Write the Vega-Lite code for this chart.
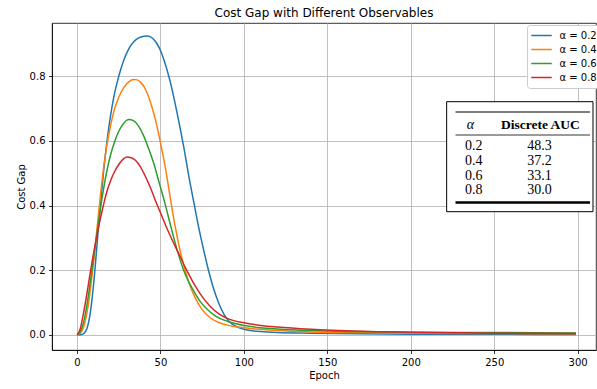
{
  "$schema": "https://vega.github.io/schema/vega-lite/v6.json",
  "width": 544,
  "height": 327,
  "autosize": {"type": "none"},
  "padding": {"left": 52, "top": 23, "right": 1, "bottom": 39},
  "background": "white",
  "title": {"text": "Cost Gap with Different Observables", "font": "DejaVu Sans", "fontSize": 12, "fontWeight": "normal", "color": "black", "offset": 3},
  "config": {
    "view": {"stroke": "black", "strokeWidth": 0.8},
    "axis": {"labelFont": "DejaVu Sans", "labelFontSize": 10, "labelColor": "black", "titleFont": "DejaVu Sans", "titleFontSize": 10, "titleFontWeight": "normal", "titleColor": "black", "gridColor": "#b0b0b0", "gridWidth": 0.8, "domainColor": "black", "domainWidth": 0.8, "tickColor": "black", "tickSize": 3.5, "tickWidth": 0.8, "labelPadding": 3.5}
  },
  "datasets": {
    "curves": [
      {"alpha":0.2,"epoch":0,"cost_gap":0},{"alpha":0.2,"epoch":2,"cost_gap":0.0005},{"alpha":0.2,"epoch":4,"cost_gap":0.004},{"alpha":0.2,"epoch":6,"cost_gap":0.02},{"alpha":0.2,"epoch":8,"cost_gap":0.07},{"alpha":0.2,"epoch":10,"cost_gap":0.16},{"alpha":0.2,"epoch":12,"cost_gap":0.28},{"alpha":0.2,"epoch":14,"cost_gap":0.40},{"alpha":0.2,"epoch":16,"cost_gap":0.51},{"alpha":0.2,"epoch":18,"cost_gap":0.60},{"alpha":0.2,"epoch":20,"cost_gap":0.675},{"alpha":0.2,"epoch":22,"cost_gap":0.735},{"alpha":0.2,"epoch":25,"cost_gap":0.80},{"alpha":0.2,"epoch":28,"cost_gap":0.85},{"alpha":0.2,"epoch":31,"cost_gap":0.885},{"alpha":0.2,"epoch":34,"cost_gap":0.907},{"alpha":0.2,"epoch":37,"cost_gap":0.919},{"alpha":0.2,"epoch":40,"cost_gap":0.924},{"alpha":0.2,"epoch":42,"cost_gap":0.925},{"alpha":0.2,"epoch":44,"cost_gap":0.922},{"alpha":0.2,"epoch":46,"cost_gap":0.914},{"alpha":0.2,"epoch":48,"cost_gap":0.90},{"alpha":0.2,"epoch":50,"cost_gap":0.88},{"alpha":0.2,"epoch":52,"cost_gap":0.852},{"alpha":0.2,"epoch":55,"cost_gap":0.80},{"alpha":0.2,"epoch":58,"cost_gap":0.735},{"alpha":0.2,"epoch":61,"cost_gap":0.66},{"alpha":0.2,"epoch":64,"cost_gap":0.58},{"alpha":0.2,"epoch":67,"cost_gap":0.49},{"alpha":0.2,"epoch":70,"cost_gap":0.41},{"alpha":0.2,"epoch":73,"cost_gap":0.33},{"alpha":0.2,"epoch":76,"cost_gap":0.26},{"alpha":0.2,"epoch":79,"cost_gap":0.195},{"alpha":0.2,"epoch":82,"cost_gap":0.14},{"alpha":0.2,"epoch":85,"cost_gap":0.097},{"alpha":0.2,"epoch":88,"cost_gap":0.064},{"alpha":0.2,"epoch":91,"cost_gap":0.042},{"alpha":0.2,"epoch":95,"cost_gap":0.027},{"alpha":0.2,"epoch":100,"cost_gap":0.017},{"alpha":0.2,"epoch":110,"cost_gap":0.010},{"alpha":0.2,"epoch":120,"cost_gap":0.007},{"alpha":0.2,"epoch":140,"cost_gap":0.005},{"alpha":0.2,"epoch":170,"cost_gap":0.003},{"alpha":0.2,"epoch":200,"cost_gap":0.002},{"alpha":0.2,"epoch":250,"cost_gap":0.0015},{"alpha":0.2,"epoch":299,"cost_gap":0.001},
      {"alpha":0.4,"epoch":0,"cost_gap":0},{"alpha":0.4,"epoch":2,"cost_gap":0.005},{"alpha":0.4,"epoch":4,"cost_gap":0.025},{"alpha":0.4,"epoch":6,"cost_gap":0.07},{"alpha":0.4,"epoch":8,"cost_gap":0.14},{"alpha":0.4,"epoch":10,"cost_gap":0.23},{"alpha":0.4,"epoch":12,"cost_gap":0.33},{"alpha":0.4,"epoch":14,"cost_gap":0.43},{"alpha":0.4,"epoch":16,"cost_gap":0.52},{"alpha":0.4,"epoch":18,"cost_gap":0.59},{"alpha":0.4,"epoch":20,"cost_gap":0.645},{"alpha":0.4,"epoch":22,"cost_gap":0.69},{"alpha":0.4,"epoch":25,"cost_gap":0.735},{"alpha":0.4,"epoch":28,"cost_gap":0.765},{"alpha":0.4,"epoch":31,"cost_gap":0.783},{"alpha":0.4,"epoch":34,"cost_gap":0.79},{"alpha":0.4,"epoch":36,"cost_gap":0.789},{"alpha":0.4,"epoch":38,"cost_gap":0.782},{"alpha":0.4,"epoch":41,"cost_gap":0.76},{"alpha":0.4,"epoch":44,"cost_gap":0.72},{"alpha":0.4,"epoch":47,"cost_gap":0.665},{"alpha":0.4,"epoch":50,"cost_gap":0.595},{"alpha":0.4,"epoch":53,"cost_gap":0.515},{"alpha":0.4,"epoch":56,"cost_gap":0.42},{"alpha":0.4,"epoch":59,"cost_gap":0.33},{"alpha":0.4,"epoch":62,"cost_gap":0.255},{"alpha":0.4,"epoch":65,"cost_gap":0.195},{"alpha":0.4,"epoch":68,"cost_gap":0.148},{"alpha":0.4,"epoch":71,"cost_gap":0.113},{"alpha":0.4,"epoch":75,"cost_gap":0.078},{"alpha":0.4,"epoch":80,"cost_gap":0.052},{"alpha":0.4,"epoch":85,"cost_gap":0.038},{"alpha":0.4,"epoch":90,"cost_gap":0.030},{"alpha":0.4,"epoch":100,"cost_gap":0.022},{"alpha":0.4,"epoch":110,"cost_gap":0.017},{"alpha":0.4,"epoch":120,"cost_gap":0.013},{"alpha":0.4,"epoch":140,"cost_gap":0.009},{"alpha":0.4,"epoch":170,"cost_gap":0.007},{"alpha":0.4,"epoch":200,"cost_gap":0.005},{"alpha":0.4,"epoch":250,"cost_gap":0.004},{"alpha":0.4,"epoch":299,"cost_gap":0.003},
      {"alpha":0.6,"epoch":0,"cost_gap":0},{"alpha":0.6,"epoch":2,"cost_gap":0.01},{"alpha":0.6,"epoch":4,"cost_gap":0.04},{"alpha":0.6,"epoch":6,"cost_gap":0.095},{"alpha":0.6,"epoch":8,"cost_gap":0.165},{"alpha":0.6,"epoch":10,"cost_gap":0.24},{"alpha":0.6,"epoch":12,"cost_gap":0.315},{"alpha":0.6,"epoch":14,"cost_gap":0.39},{"alpha":0.6,"epoch":16,"cost_gap":0.455},{"alpha":0.6,"epoch":18,"cost_gap":0.51},{"alpha":0.6,"epoch":20,"cost_gap":0.555},{"alpha":0.6,"epoch":22,"cost_gap":0.59},{"alpha":0.6,"epoch":25,"cost_gap":0.63},{"alpha":0.6,"epoch":28,"cost_gap":0.655},{"alpha":0.6,"epoch":31,"cost_gap":0.666},{"alpha":0.6,"epoch":34,"cost_gap":0.662},{"alpha":0.6,"epoch":37,"cost_gap":0.645},{"alpha":0.6,"epoch":40,"cost_gap":0.615},{"alpha":0.6,"epoch":43,"cost_gap":0.575},{"alpha":0.6,"epoch":46,"cost_gap":0.53},{"alpha":0.6,"epoch":49,"cost_gap":0.475},{"alpha":0.6,"epoch":52,"cost_gap":0.42},{"alpha":0.6,"epoch":55,"cost_gap":0.36},{"alpha":0.6,"epoch":58,"cost_gap":0.30},{"alpha":0.6,"epoch":61,"cost_gap":0.245},{"alpha":0.6,"epoch":64,"cost_gap":0.198},{"alpha":0.6,"epoch":67,"cost_gap":0.163},{"alpha":0.6,"epoch":70,"cost_gap":0.135},{"alpha":0.6,"epoch":74,"cost_gap":0.102},{"alpha":0.6,"epoch":78,"cost_gap":0.079},{"alpha":0.6,"epoch":83,"cost_gap":0.058},{"alpha":0.6,"epoch":90,"cost_gap":0.042},{"alpha":0.6,"epoch":100,"cost_gap":0.029},{"alpha":0.6,"epoch":110,"cost_gap":0.022},{"alpha":0.6,"epoch":120,"cost_gap":0.018},{"alpha":0.6,"epoch":140,"cost_gap":0.013},{"alpha":0.6,"epoch":170,"cost_gap":0.010},{"alpha":0.6,"epoch":200,"cost_gap":0.008},{"alpha":0.6,"epoch":250,"cost_gap":0.007},{"alpha":0.6,"epoch":299,"cost_gap":0.006},
      {"alpha":0.8,"epoch":0,"cost_gap":0},{"alpha":0.8,"epoch":2,"cost_gap":0.02},{"alpha":0.8,"epoch":4,"cost_gap":0.07},{"alpha":0.8,"epoch":6,"cost_gap":0.13},{"alpha":0.8,"epoch":8,"cost_gap":0.195},{"alpha":0.8,"epoch":10,"cost_gap":0.255},{"alpha":0.8,"epoch":12,"cost_gap":0.31},{"alpha":0.8,"epoch":14,"cost_gap":0.36},{"alpha":0.8,"epoch":16,"cost_gap":0.405},{"alpha":0.8,"epoch":18,"cost_gap":0.445},{"alpha":0.8,"epoch":20,"cost_gap":0.475},{"alpha":0.8,"epoch":22,"cost_gap":0.5},{"alpha":0.8,"epoch":25,"cost_gap":0.527},{"alpha":0.8,"epoch":28,"cost_gap":0.545},{"alpha":0.8,"epoch":30,"cost_gap":0.55},{"alpha":0.8,"epoch":32,"cost_gap":0.549},{"alpha":0.8,"epoch":35,"cost_gap":0.54},{"alpha":0.8,"epoch":38,"cost_gap":0.52},{"alpha":0.8,"epoch":41,"cost_gap":0.49},{"alpha":0.8,"epoch":44,"cost_gap":0.455},{"alpha":0.8,"epoch":47,"cost_gap":0.415},{"alpha":0.8,"epoch":50,"cost_gap":0.378},{"alpha":0.8,"epoch":53,"cost_gap":0.34},{"alpha":0.8,"epoch":56,"cost_gap":0.305},{"alpha":0.8,"epoch":59,"cost_gap":0.272},{"alpha":0.8,"epoch":62,"cost_gap":0.24},{"alpha":0.8,"epoch":65,"cost_gap":0.207},{"alpha":0.8,"epoch":68,"cost_gap":0.177},{"alpha":0.8,"epoch":71,"cost_gap":0.15},{"alpha":0.8,"epoch":75,"cost_gap":0.118},{"alpha":0.8,"epoch":80,"cost_gap":0.087},{"alpha":0.8,"epoch":85,"cost_gap":0.065},{"alpha":0.8,"epoch":90,"cost_gap":0.051},{"alpha":0.8,"epoch":100,"cost_gap":0.037},{"alpha":0.8,"epoch":110,"cost_gap":0.029},{"alpha":0.8,"epoch":120,"cost_gap":0.024},{"alpha":0.8,"epoch":140,"cost_gap":0.017},{"alpha":0.8,"epoch":170,"cost_gap":0.011},{"alpha":0.8,"epoch":200,"cost_gap":0.008},{"alpha":0.8,"epoch":250,"cost_gap":0.005},{"alpha":0.8,"epoch":299,"cost_gap":0.004}
    ],
    "auc": [
      {"alpha": 0.2, "auc": 48.3},
      {"alpha": 0.4, "auc": 37.2},
      {"alpha": 0.6, "auc": 33.1},
      {"alpha": 0.8, "auc": 30.0}
    ]
  },
  "layer": [
    {
      "data": {"name": "curves"},
      "mark": {"type": "line", "interpolate": "monotone", "strokeWidth": 1.5},
      "encoding": {
        "x": {"field": "epoch", "type": "quantitative", "scale": {"domain": [-15, 311], "nice": false, "zero": false}, "axis": {"values": [0, 50, 100, 150, 200, 250, 300], "title": "Epoch", "titlePadding": 3}},
        "y": {"field": "cost_gap", "type": "quantitative", "scale": {"domain": [-0.047, 0.965], "nice": false, "zero": false}, "axis": {"values": [0, 0.2, 0.4, 0.6, 0.8], "format": ".1f", "title": "Cost Gap", "titlePadding": 3}},
        "color": {
          "field": "alpha", "type": "nominal",
          "scale": {"domain": [0.2, 0.4, 0.6, 0.8], "range": ["#1f77b4", "#ff7f0e", "#2ca02c", "#d62728"]},
          "legend": {"title": null, "orient": "none", "legendX": 475, "legendY": 2, "symbolType": "stroke", "symbolSize": 420, "symbolStrokeWidth": 1.5, "labelFont": "DejaVu Sans", "labelFontSize": 10, "labelColor": "black", "labelExpr": "'α = ' + format(datum.value, '.1f')", "fillColor": "white", "strokeColor": "#cccccc", "cornerRadius": 3, "padding": 3.5, "clipHeight": 14, "rowPadding": 0, "labelOffset": 7}
        }
      }
    },
    {
      "layer": [
        {
          "data": {"values": [{}]},
          "mark": {"type": "rect", "fill": "white", "stroke": "black", "strokeWidth": 1},
          "encoding": {
            "x": {"datum": 221.5, "type": "quantitative"},
            "x2": {"datum": 309.2},
            "y": {"datum": -0.3987, "type": "quantitative", "scale": {"domain": [-1.4622, 2.9568], "reverse": true, "nice": false, "zero": false}, "axis": null},
            "y2": {"datum": 1.0878}
          }
        },
        {
          "data": {"values": [{}]},
          "mark": {"type": "rule", "color": "black", "strokeWidth": 1.2},
          "encoding": {"x": {"datum": 226.8, "type": "quantitative"}, "x2": {"datum": 307.4}, "y": {"datum": -0.2595, "type": "quantitative", "axis": null}}
        },
        {
          "data": {"values": [{}]},
          "mark": {"type": "rule", "color": "black", "strokeWidth": 0.8},
          "encoding": {"x": {"datum": 226.8, "type": "quantitative"}, "x2": {"datum": 307.4}, "y": {"datum": 0.0514, "type": "quantitative", "axis": null}}
        },
        {
          "data": {"values": [{}]},
          "mark": {"type": "rule", "color": "black", "strokeWidth": 2.5},
          "encoding": {"x": {"datum": 226.8, "type": "quantitative"}, "x2": {"datum": 307.4}, "y": {"datum": 0.9635, "type": "quantitative", "axis": null}}
        },
        {
          "data": {"values": [{}]},
          "mark": {"type": "text", "text": "α", "font": "Liberation Serif", "fontSize": 14, "fontStyle": "italic", "align": "left", "baseline": "middle", "color": "black"},
          "encoding": {"x": {"datum": 233.6, "type": "quantitative"}, "y": {"datum": -0.0838, "type": "quantitative", "axis": null}}
        },
        {
          "data": {"values": [{}]},
          "mark": {"type": "text", "text": "Discrete AUC", "font": "Liberation Serif", "fontSize": 13.5, "fontWeight": "bold", "align": "center", "baseline": "middle", "color": "black"},
          "encoding": {"x": {"datum": 277.7, "type": "quantitative"}, "y": {"datum": -0.0838, "type": "quantitative", "axis": null}}
        },
        {
          "data": {"name": "auc"},
          "mark": {"type": "text", "font": "Liberation Serif", "fontSize": 14, "align": "left", "baseline": "middle", "color": "black"},
          "encoding": {"x": {"datum": 232.5, "type": "quantitative"}, "y": {"field": "alpha", "type": "quantitative", "axis": null}, "text": {"field": "alpha", "type": "quantitative", "format": ".1f"}}
        },
        {
          "data": {"name": "auc"},
          "mark": {"type": "text", "font": "Liberation Serif", "fontSize": 14, "align": "center", "baseline": "middle", "color": "black"},
          "encoding": {"x": {"datum": 277.2, "type": "quantitative"}, "y": {"field": "alpha", "type": "quantitative", "axis": null}, "text": {"field": "auc", "type": "quantitative", "format": ".1f"}}
        }
      ]
    }
  ],
  "resolve": {"scale": {"y": "independent"}}
}
